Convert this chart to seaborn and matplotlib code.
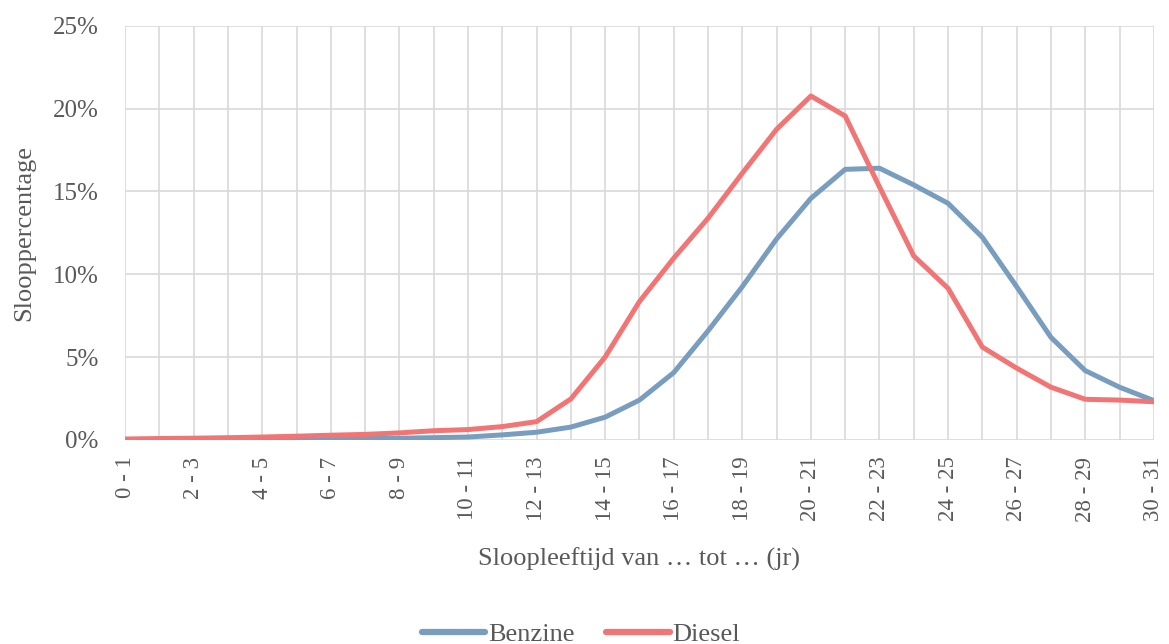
import numpy as np
import pandas as pd
import matplotlib
matplotlib.use("Agg")
import matplotlib.pyplot as plt
import seaborn as sns
from matplotlib.ticker import FuncFormatter

# categories: scrap age from ... to ... (years)
leeftijd = ["%d - %d" % (i, i + 1) for i in range(31)]

benzine = [0.02, 0.02, 0.03, 0.04, 0.05, 0.06, 0.07, 0.08, 0.10, 0.13,
           0.17, 0.30, 0.46, 0.77, 1.37, 2.40, 4.06, 6.58, 9.25, 12.13,
           14.58, 16.33, 16.40, 15.39, 14.28, 12.23, 9.25, 6.19, 4.18, 3.18,
           2.37]
diesel = [0.05, 0.08, 0.10, 0.13, 0.17, 0.22, 0.28, 0.33, 0.42, 0.55,
          0.62, 0.80, 1.10, 2.47, 5.00, 8.35, 10.97, 13.38, 16.10, 18.75,
          20.76, 19.55, 15.27, 11.10, 9.15, 5.60, 4.33, 3.18, 2.45, 2.40,
          2.30]

series = ["Benzine", "Diesel"]
kleuren = {"Benzine": "#789dbf", "Diesel": "#f27575"}

df = pd.DataFrame({"leeftijd": leeftijd, "Benzine": benzine, "Diesel": diesel})
df_long = df.melt(id_vars="leeftijd", value_vars=series, var_name="brandstof", value_name="pct")

sns.set_style("white")
plt.rcParams["font.family"] = ["Liberation Serif", "DejaVu Serif"]
tekst = "#595959"

fig = plt.figure(figsize=(11.69, 6.44), dpi=100)
ax = fig.add_axes([0.107, 0.317, 0.880, 0.643])

sns.lineplot(data=df_long, x="leeftijd", y="pct", hue="brandstof", hue_order=series,
             palette=kleuren, linewidth=3.6, sort=False, ax=ax, legend=False)

ax.set_xlim(0, len(leeftijd) - 1)
ax.set_ylim(0, 25)
ax.set_yticks(np.arange(0, 26, 5))
ax.yaxis.set_major_formatter(FuncFormatter(lambda v, p: "%d%%" % v))

ax.set_xticks(range(len(leeftijd)))
ax.set_xticklabels([l if i % 2 == 0 else "" for i, l in enumerate(leeftijd)],
                   rotation=90, fontsize=16.5, color=tekst)
ax.tick_params(axis="y", labelsize=18, labelcolor=tekst, length=0, pad=19)
ax.tick_params(axis="x", length=0, pad=12)

ax.grid(True, color="#d9d9d9", linewidth=1.2)
ax.set_axisbelow(True)
for s in ax.spines.values():
    s.set_visible(False)

ax.set_xlabel("Sloopleeftijd van … tot … (jr)", fontsize=19, color=tekst, labelpad=19)
ax.set_ylabel("Slooppercentage", fontsize=19, color=tekst, labelpad=13)

handles = [plt.Line2D([], [], color=kleuren[s], linewidth=4.5, solid_capstyle="round") for s in series]
fig.legend(handles, series, loc="center", bbox_to_anchor=(0.497, 0.015), ncol=2,
           frameon=False, fontsize=19, labelcolor=tekst, handlelength=2.4,
           handletextpad=0.1, columnspacing=1.2)

fig.savefig("out.png", dpi=100)
